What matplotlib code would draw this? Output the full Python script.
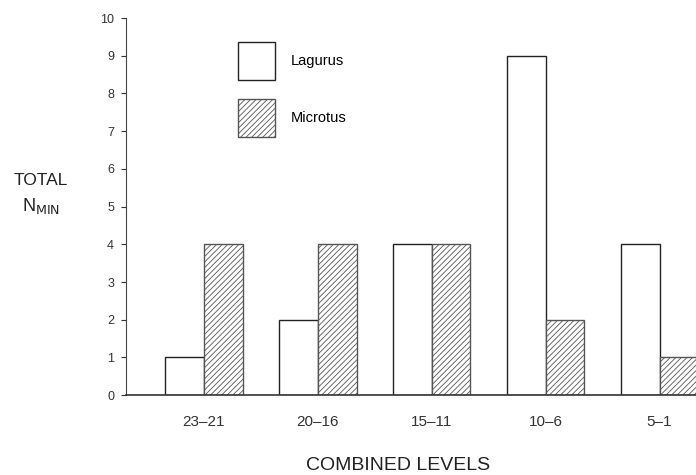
import matplotlib
matplotlib.use('Agg')
import matplotlib.pyplot as plt
import numpy as np

levels = ['23-21', '20-16', '15-11', '10-6', '5-1']
lagurus = [1, 2, 4, 9, 4]
microtus = [4, 4, 4, 2, 1]

plt.rcParams['font.family'] = ['Liberation Sans', 'DejaVu Sans']
plt.rcParams['hatch.linewidth'] = 0.6
plt.rcParams['hatch.color'] = '#808080'

fig = plt.figure(figsize=(6.96, 4.75), dpi=100)
ax = fig.add_axes([0.181, 0.168, 0.819, 0.794])

x = np.arange(len(levels))
w = 0.34
ax.bar(x - w / 2, lagurus, w, color='white', edgecolor='#222222', linewidth=1.0, label='Lagurus')
ax.bar(x + w / 2, microtus, w, color='white', edgecolor='#555555', linewidth=1.0,
       hatch='//////', label='Microtus')

ax.set_xlim(-0.685, 4.32)
ax.set_ylim(0, 10)
ax.set_yticks(range(0, 11))
ax.set_xticks(x)
ax.set_xticklabels([l.replace('-', '\u2013') for l in levels])
ax.tick_params(axis='x', length=0, pad=14, labelsize=11, colors='#333333')
ax.tick_params(axis='y', length=3.5, width=0.8, labelsize=9, colors='#333333', pad=5)

for s in ['top', 'right']:
    ax.spines[s].set_visible(False)
ax.spines['left'].set_color('#444444')
ax.spines['bottom'].set_color('#333333')
ax.spines['bottom'].set_linewidth(1.2)

fig.text(0.572, 0.021, 'COMBINED LEVELS', fontsize=14, ha='center', va='center', color='#222222')
fig.text(0.059, 0.621, 'TOTAL', fontsize=12.5, ha='center', va='center', color='#222222')
fig.text(0.059, 0.566, r'N$_{\mathrm{MIN}}$', fontsize=13, ha='center', va='center', color='#222222')

leg = ax.legend(loc='upper left', bbox_to_anchor=(0.196, 0.937), frameon=False,
                fontsize=10.5, handlelength=2.54, handleheight=3.64, labelspacing=1.3,
                handletextpad=1.1, borderaxespad=0, borderpad=0)

fig.savefig('out.png', dpi=100, facecolor='white')
